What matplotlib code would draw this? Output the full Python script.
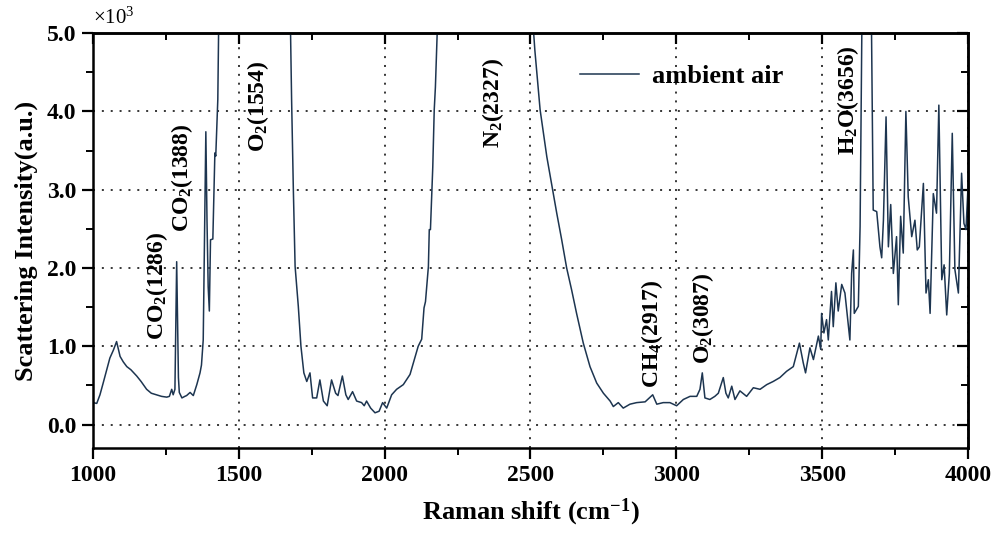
import matplotlib
matplotlib.use("Agg")
import matplotlib.pyplot as plt
from matplotlib.ticker import MultipleLocator

plt.rcParams['font.family'] = ['Liberation Serif', 'DejaVu Serif']
plt.rcParams['font.weight'] = 'bold'
plt.rcParams['axes.labelweight'] = 'bold'
plt.rcParams['mathtext.default'] = 'regular'

# Raman shift (cm-1) and scattering intensity (x10^3 a.u.) of ambient air
shift = [1000, 1013, 1024, 1035, 1058, 1070, 1081, 1093, 1104, 1116, 1130, 1150,
         1165, 1184, 1200, 1218, 1235, 1253, 1262, 1270, 1275, 1281, 1287, 1293,
         1296, 1305, 1315, 1321, 1333, 1344, 1356, 1367, 1372, 1378, 1384, 1387,
         1391, 1395, 1399, 1403, 1411, 1418, 1421, 1428, 1431, 1554, 1677, 1681,
         1687, 1693, 1704, 1713, 1723, 1733, 1744, 1753, 1767, 1778, 1790, 1803,
         1818, 1832, 1840, 1855, 1867, 1875, 1890, 1904, 1921, 1930, 1938, 1952,
         1967, 1981, 1993, 2007, 2024, 2041, 2064, 2087, 2098, 2115, 2127, 2135,
         2140, 2150, 2153, 2157, 2165, 2170, 2174, 2181, 2327, 2509, 2515, 2533,
         2556, 2576, 2590, 2607, 2624, 2641, 2658, 2681, 2704, 2727, 2750, 2773,
         2784, 2801, 2818, 2841, 2864, 2893, 2919, 2933, 2955, 2978, 3001, 3024,
         3047, 3070, 3081, 3089, 3098, 3115, 3132, 3144, 3161, 3170, 3178, 3190,
         3201, 3218, 3241, 3264, 3287, 3310, 3332, 3355, 3378, 3401, 3413, 3422,
         3435, 3443, 3458, 3470, 3487, 3495, 3498, 3506, 3515, 3521, 3532, 3538,
         3547, 3555, 3567, 3578, 3595, 3601, 3607, 3610, 3624, 3630, 3636, 3656,
         3669, 3675, 3687, 3698, 3704, 3710, 3719, 3727, 3735, 3744, 3755, 3761,
         3769, 3778, 3787, 3795, 3807, 3818, 3826, 3833, 3847, 3856, 3864, 3870,
         3881, 3892, 3900, 3910, 3918, 3927, 3936, 3946, 3955, 3967, 3978, 3986,
         3993, 4000]
intensity = [0.28, 0.27, 0.38, 0.53, 0.85, 0.95, 1.06, 0.87, 0.80, 0.74, 0.70, 0.62,
             0.55, 0.45, 0.40, 0.38, 0.36, 0.35, 0.36, 0.45, 0.38, 0.45, 2.08, 0.60,
             0.41, 0.34, 0.36, 0.37, 0.41, 0.37, 0.51, 0.66, 0.76, 1.08, 2.87, 3.74,
             2.60, 1.76, 1.45, 2.36, 2.37, 3.47, 3.43, 4.15, 5.10, 30.0, 5.10, 4.15,
             3.00, 2.02, 1.51, 1.00, 0.66, 0.55, 0.66, 0.34, 0.34, 0.57, 0.30, 0.24,
             0.57, 0.40, 0.37, 0.62, 0.38, 0.32, 0.42, 0.30, 0.28, 0.24, 0.30, 0.21,
             0.15, 0.17, 0.28, 0.21, 0.38, 0.45, 0.51, 0.64, 0.78, 1.00, 1.09, 1.49,
             1.57, 2.02, 2.49, 2.49, 3.29, 4.02, 4.31, 5.10, 40.0, 5.10, 4.78, 4.02,
             3.42, 3.00, 2.70, 2.36, 2.00, 1.72, 1.42, 1.04, 0.74, 0.53, 0.40, 0.30,
             0.23, 0.28, 0.21, 0.26, 0.28, 0.29, 0.38, 0.26, 0.28, 0.28, 0.24, 0.32,
             0.36, 0.36, 0.45, 0.66, 0.34, 0.32, 0.36, 0.40, 0.60, 0.40, 0.34, 0.49,
             0.32, 0.43, 0.36, 0.47, 0.45, 0.51, 0.55, 0.60, 0.68, 0.74, 0.91, 1.04,
             0.79, 0.66, 0.98, 0.83, 1.13, 0.96, 1.42, 1.17, 1.34, 1.08, 1.70, 1.25,
             1.81, 1.45, 1.79, 1.68, 1.08, 1.93, 2.23, 1.42, 1.51, 2.53, 5.10, 12.0,
             5.10, 2.74, 2.72, 2.27, 2.13, 2.61, 3.93, 2.27, 2.81, 1.93, 2.40, 1.53,
             2.66, 2.19, 4.00, 2.91, 2.40, 2.61, 2.23, 2.27, 3.08, 1.68, 1.85, 1.42,
             2.95, 2.70, 4.08, 1.85, 2.04, 1.40, 1.93, 3.72, 1.98, 1.68, 3.21, 2.57,
             2.49, 3.04]

# peak annotations: label, x position, bottom of rotated text
peak_labels = ['CO$_2$(1286)', 'CO$_2$(1388)', 'O$_2$(1554)', 'N$_2$(2327)',
               'CH$_4$(2917)', 'O$_2$(3087)', 'H$_2$O(3656)']
peak_x = [1221, 1304, 1566, 2370, 2915, 3092, 3587]
peak_y = [1.08, 2.46, 3.48, 3.53, 0.47, 0.77, 3.44]

fig = plt.figure(figsize=(10.05, 5.34), dpi=100)
ax = fig.add_axes([0.0925, 0.161, 0.8707, 0.777])

ax.plot(shift, intensity, color='#1d3550', lw=1.1, label='ambient air')

ax.set_xlim(1000, 4000)
ax.set_ylim(-0.3, 5.0)
ax.xaxis.set_major_locator(MultipleLocator(500))
ax.xaxis.set_minor_locator(MultipleLocator(250))
ax.yaxis.set_major_locator(MultipleLocator(1.0))
ax.yaxis.set_minor_locator(MultipleLocator(0.5))
ax.yaxis.set_major_formatter(plt.FormatStrFormatter('%.1f'))
ax.grid(True, which='major', color='black', lw=1.1, linestyle=(0, (1.3, 4.5)))

for s in ax.spines.values():
    s.set_linewidth(1.8)
ax.tick_params(which='major', direction='out', length=8, width=1.6,
               labelsize=17, pad=4)
ax.tick_params(which='minor', direction='out', length=5, width=1.4)

# mirrored ticks on top and right, pointing into the frame
top = ax.secondary_xaxis('top')
top.xaxis.set_major_locator(MultipleLocator(500))
top.xaxis.set_minor_locator(MultipleLocator(250))
top.tick_params(which='major', direction='in', length=8, width=1.6, labeltop=False)
top.tick_params(which='minor', direction='in', length=5, width=1.4)
right = ax.secondary_yaxis('right')
right.yaxis.set_major_locator(MultipleLocator(1.0))
right.yaxis.set_minor_locator(MultipleLocator(0.5))
right.tick_params(which='major', direction='in', length=8, width=1.6, labelright=False)
right.tick_params(which='minor', direction='in', length=5, width=1.4)
for sec in (top, right):
    for s in sec.spines.values():
        s.set_linewidth(1.8)

ax.set_xlabel('Raman shift (cm$^{-1}$)', fontsize=19, labelpad=8)
ax.set_ylabel('Scattering Intensity(a.u.)', fontsize=19, labelpad=6)
ax.text(0.0, 1.01, '×10$^3$', transform=ax.transAxes, fontsize=15,
        fontweight='normal', ha='left', va='bottom')

for lab, px, py in zip(peak_labels, peak_x, peak_y):
    ax.text(px, py, lab, rotation=90, ha='center', va='bottom', fontsize=17)

ax.legend(loc='upper left', bbox_to_anchor=(0.53, 0.982), frameon=False,
          fontsize=19, handlelength=2.2, handletextpad=0.5)

fig.savefig('out.png', dpi=100)
